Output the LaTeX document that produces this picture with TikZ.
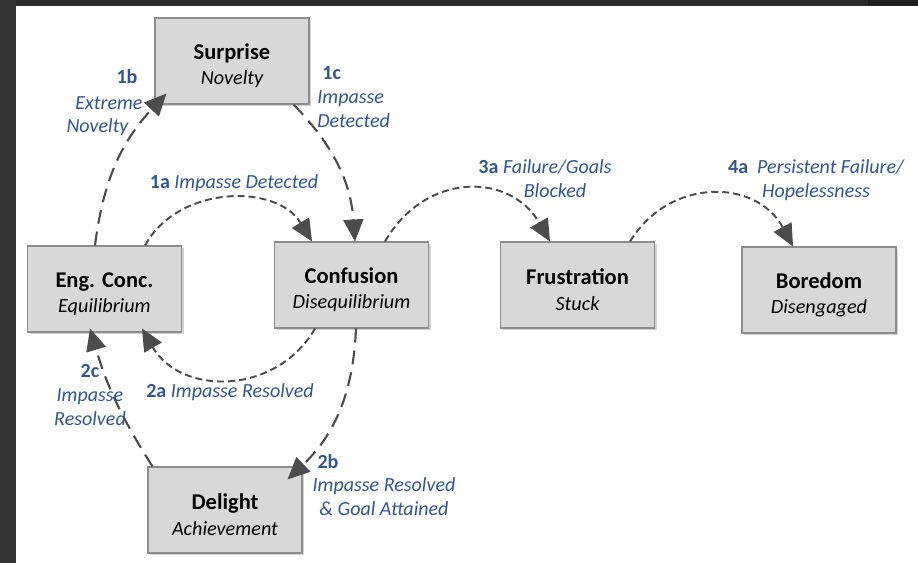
\documentclass[tikz,border=0pt]{standalone}
\usepackage{fontspec}
\setmainfont{Carlito}
\usepackage{xcolor}
\definecolor{lblblue}{RGB}{47,85,151}
\definecolor{boxfill}{RGB}{216,216,216}
\definecolor{boxline}{RGB}{140,140,140}
\definecolor{arrgray}{RGB}{76,76,76}
\definecolor{frame}{RGB}{51,51,51}
\usetikzlibrary{arrows.meta,positioning,shadows}
\newcommand{\ttl}[1]{{\fontsize{12.8}{14.4}\selectfont\upshape\bfseries\rule{0pt}{0.5cm}#1}}

\begin{document}
\begin{tikzpicture}[
        statebox/.style={rectangle, draw=boxline, line width=0.6pt, fill=boxfill,
                         minimum width=3.08cm, minimum height=1.72cm, align=center,
                         font=\fontsize{11.5}{14.4}\selectfont\itshape,
                         drop shadow={shadow xshift=1.2pt, shadow yshift=-1.2pt, opacity=0.35}},
        lbl/.style={text=lblblue, inner sep=0pt, font=\fontsize{11.4}{13.7}\selectfont\itshape},
        longarr/.style={-{Triangle[length=0.44cm, width=0.4cm]}, arrgray, line width=1.2pt,
                        dash pattern=on 0.28cm off 0.16cm},
        shortarr/.style={-{Triangle[length=0.44cm, width=0.4cm]}, arrgray, line width=1.1pt,
                         dash pattern=on 0.14cm off 0.08cm}
      ]
        \useasboundingbox (0,0) rectangle (18.36,-11.26);
        % dark frame
        \fill[frame!85!black] (0,0) rectangle (17.36,-0.12);
        \fill[frame!110!white] (17.36,0) rectangle (18.36,-0.12);
        \fill[frame] (0,0) rectangle (0.32,-11.26);

        % states
        \node[statebox] (surp) at (4.64,-1.22)  {\ttl{Surprise}\\Novelty};
        \node[statebox] (eng)  at (2.09,-5.78)  {\ttl{Eng. Conc.}\\Equilibrium};
        \node[statebox] (conf) at (7.03,-5.70)  {\ttl{Confusion}\\Disequilibrium};
        \node[statebox] (frus) at (11.55,-5.70) {\ttl{Frustration}\\Stuck};
        \node[statebox] (bore) at (16.38,-5.80) {\ttl{Boredom}\\Disengaged};
        \node[statebox] (deli) at (4.50,-10.20) {\ttl{Delight}\\Achievement};

        % transitions
        \draw[shortarr] ([xshift=0.81cm]eng.north) to[bend left=60, looseness=1.05] ([xshift=-0.79cm]conf.north);
        \draw[longarr]  ([xshift=-0.19cm]eng.north) to[bend left=18] ([xshift=0.24cm,yshift=0.22cm]surp.south west);
        \draw[longarr]  ([xshift=-0.32cm]surp.south east) to[bend left=20] ([xshift=0.07cm]conf.north);
        \draw[shortarr] ([xshift=-0.73cm]conf.south) to[bend left=60, looseness=1.15] ([xshift=0.75cm,yshift=0.08cm]eng.south);
        \draw[longarr]  ([xshift=0.09cm]conf.south) to[bend left=22] ([xshift=-0.3cm,yshift=-0.26cm]deli.north east);
        \draw[longarr]  ([xshift=0.1cm]deli.north west) to[bend left=8] ([xshift=-0.29cm,yshift=0.08cm]eng.south);
        \draw[shortarr] ([xshift=0.67cm]conf.north) to[bend left=60, looseness=1.25] ([xshift=-0.55cm]frus.north);
        \draw[shortarr] ([xshift=1.05cm]frus.north) to[bend left=60, looseness=1.2] ([xshift=-0.52cm]bore.north);

        % labels
        \node[lbl] (l1b)  at (2.54,-1.54) {\textbf{\upshape 1b}};
        \node[lbl] (l1bx) at (2.18,-2.06) {Extreme};
        \node[lbl] (l1bn) at (1.95,-2.54) {Novelty};
        \node[lbl, anchor=west, align=left] (l1c) at (6.34,-1.94) {\hspace{0.1cm}\textbf{\upshape 1c}\\Impasse\\Detected};
        \node[lbl] (l1a)  at (4.68,-3.66) {\textbf{\upshape 1a} Impasse Detected};
        \node[lbl, align=center] (l3a) at (10.90,-3.58) {\textbf{\upshape 3a} Failure/Goals\\\hspace{0.4cm}Blocked};
        \node[lbl, align=center] (l4a) at (16.32,-3.60) {\textbf{\upshape 4a}\ \ Persistent Failure/\\Hopelessness};
        \node[lbl, align=center] (l2c) at (1.80,-7.90) {\textbf{\upshape 2c}\\Impasse\\Resolved};
        \node[lbl] (l2a)  at (4.60,-7.84) {\textbf{\upshape 2a} Impasse Resolved};
        \node[lbl] (l2b)  at (6.56,-9.24) {\textbf{\upshape 2b}};
        \node[lbl, align=center] (l2bt) at (7.68,-9.94) {Impasse Resolved\\\& Goal Attained};
      \end{tikzpicture}
\end{document}
